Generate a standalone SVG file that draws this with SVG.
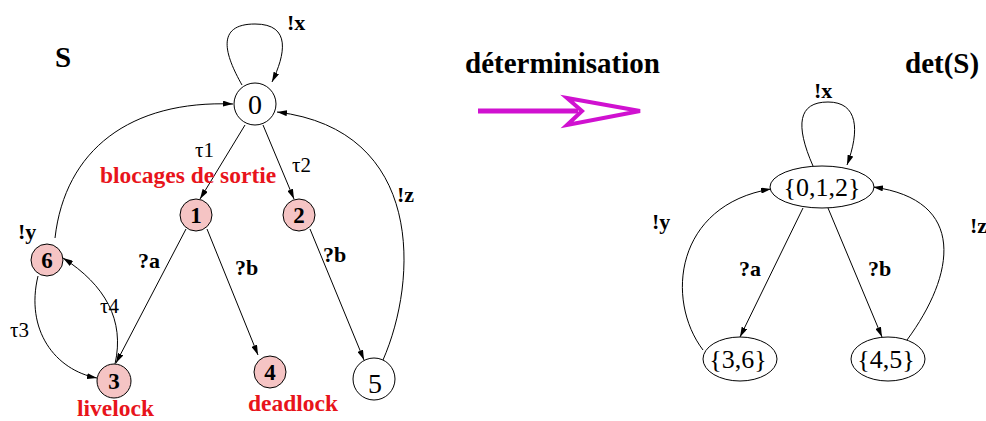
<svg xmlns="http://www.w3.org/2000/svg" width="986" height="421" viewBox="0 0 986 421">
<defs>
<marker id="ah" viewBox="0 0 10 6" refX="10" refY="3" markerWidth="10" markerHeight="6" markerUnits="userSpaceOnUse" orient="auto">
<path d="M0,0 L10,3 L0,6 z" fill="#000"/>
</marker>
<style>
.e{fill:none;stroke:#000;stroke-width:1;marker-end:url(#ah)}
.n{fill:#fff;stroke:#000;stroke-width:1}
.p{fill:#f5c4c4;stroke:#000;stroke-width:1}
text{font-family:"Liberation Serif","Times New Roman",serif;fill:#000}
.b{font-weight:bold;font-size:22px}
.t{font-size:21px}
.big{font-weight:bold;font-size:29px}
.red{font-weight:bold;font-size:23.5px;fill:#e8141b}
.nl{font-weight:bold;font-size:23px;text-anchor:middle}
.nr{font-size:28px;text-anchor:middle}
.st{font-size:26px;text-anchor:middle}
</style>
</defs>
<rect width="986" height="421" fill="#fff"/>
<g id="titles">
<text class="big" x="55" y="67">S</text>
<text class="big" x="465" y="73">déterminisation</text>
<text class="big" x="905" y="73">det(S)</text>
</g>
<g id="transform-arrow">
<line x1="478" y1="111" x2="578" y2="111" stroke="#d011d0" stroke-width="5"/>
<polygon points="567,98 640,111 567,125 582,111" fill="#fff" stroke="#d011d0" stroke-width="4" stroke-linejoin="miter"/>
</g>
<g id="connectors">
<path class="e" d="M242,85 C225,55 215,24 255,24 C292,24 285,55 272,82"/>
<path class="e" d="M55,238 C65,150 130,100 233,104"/>
<path class="e" d="M383,360 C418,280 425,130 277,112"/>
<path class="e" d="M245,125 L200,199"/>
<path class="e" d="M263,125 L294,199"/>
<path class="e" d="M186,229 L116,363"/>
<path class="e" d="M207,229 L258,355"/>
<path class="e" d="M310,229 L364,360"/>
<path class="e" d="M38,276 C25,330 55,370 97,378"/>
<path class="e" d="M115,364 C125,320 105,285 63,258"/>
<path class="e" d="M813,166 C795,125 798,102 828,102 C858,102 860,130 847,165"/>
<path class="e" d="M703,350 C665,300 675,205 771,189"/>
<path class="e" d="M907,340 C955,275 968,200 873,187"/>
<path class="e" d="M803,208 L740,337"/>
<path class="e" d="M828,208 L882,337"/>
</g>
<g id="labels">
<text class="b" x="287" y="30">!x</text>
<text class="t" x="195" y="157">τ1</text>
<text class="t" x="292" y="172">τ2</text>
<text class="red" x="100" y="183">blocages de sortie</text>
<text class="b" x="397" y="202">!z</text>
<text class="b" x="18" y="239">!y</text>
<text class="b" x="138" y="268">?a</text>
<text class="b" x="235" y="275">?b</text>
<text class="b" x="323" y="262">?b</text>
<text class="t" x="100" y="313">τ4</text>
<text class="t" x="10" y="337">τ3</text>
<text class="red" x="77" y="416">livelock</text>
<text class="red" x="248" y="411">deadlock</text>
<text class="b" x="814" y="98">!x</text>
<text class="b" x="652" y="229">!y</text>
<text class="b" x="970" y="233">!z</text>
<text class="b" x="739" y="276">?a</text>
<text class="b" x="868" y="276">?b</text>
</g>
<g id="node-0"><circle class="n" cx="255" cy="104" r="21"/><text class="nr" x="255" y="114">0</text></g>
<g id="node-1"><circle class="p" cx="196" cy="215" r="16"/><text class="nl" x="196" y="223">1</text></g>
<g id="node-2"><circle class="p" cx="299" cy="215" r="16"/><text class="nl" x="299" y="223">2</text></g>
<g id="node-3"><circle class="p" cx="114" cy="381" r="17"/><text class="nl" x="114" y="389">3</text></g>
<g id="node-4"><circle class="p" cx="270" cy="372" r="16"/><text class="nl" x="270" y="380">4</text></g>
<g id="node-5"><circle class="n" cx="374" cy="379" r="21"/><text class="nr" x="375" y="393">5</text></g>
<g id="node-6"><circle class="p" cx="47" cy="260" r="16"/><text class="nl" x="47" y="268">6</text></g>
<g id="node-012"><ellipse class="n" cx="822" cy="187" rx="52" ry="21"/><text class="st" x="822" y="196">{0,1,2}</text></g>
<g id="node-36"><ellipse class="n" cx="740" cy="359" rx="37" ry="22"/><text class="st" x="738" y="368">{3,6}</text></g>
<g id="node-45"><ellipse class="n" cx="888" cy="359" rx="37" ry="22"/><text class="st" x="886" y="368">{4,5}</text></g>
</svg>
